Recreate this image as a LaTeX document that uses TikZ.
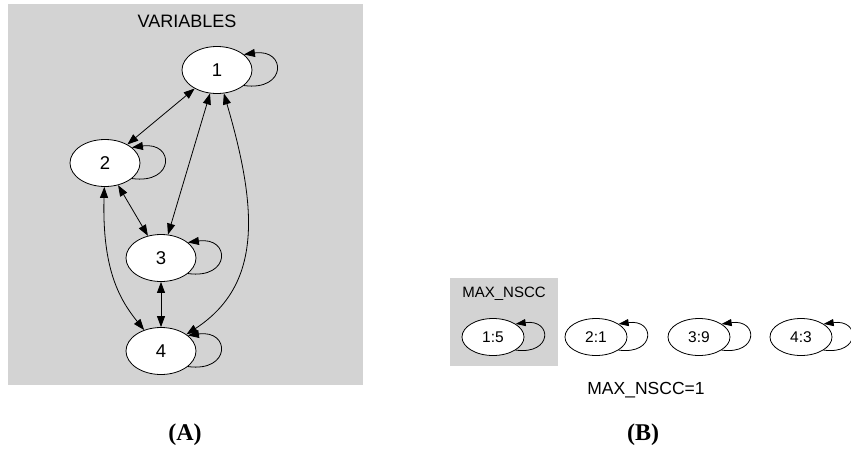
\documentclass[tikz,border=0pt]{standalone}
\usepackage{fontspec}
\setmainfont{Liberation Serif}
\setsansfont{Liberation Sans}
\usetikzlibrary{arrows.meta,shapes.geometric}
\definecolor{clustergray}{RGB}{211,211,211}
\tikzset{
  var/.style = {ellipse, draw, fill=white, line width=0.8pt, minimum width=70pt, minimum height=47pt, inner sep=0pt, font=\sffamily\fontsize{18.5}{18.5}\selectfont},
  scc/.style = {ellipse, draw, fill=white, line width=0.8pt, minimum width=62pt, minimum height=37pt, inner sep=0pt, font=\sffamily\fontsize{15.5}{15.5}\selectfont},
  arc/.style = {line width=0.8pt, -{Triangle[length=11pt,width=8pt]}},
  sarc/.style = {line width=0.8pt, -{Triangle[length=10pt,width=7pt]}},
  both/.style = {line width=0.8pt, {Triangle[length=11pt,width=8pt]}-{Triangle[length=11pt,width=8pt]}},
  caption/.style = {font=\bfseries\fontsize{24}{24}\selectfont}
}
\begin{document}
\begin{tikzpicture}[x=1pt, y=1pt]
\useasboundingbox (0,0) rectangle (851,-451);
\fill[clustergray] (8,-4) rectangle (363,-385);
\node[font=\sffamily\fontsize{18}{18}\selectfont] (vars) at (187,-21) {VARIABLES};
\node[var] (v1) at (217,-70) {1};
\node[var] (v2) at (105,-163) {2};
\node[var] (v3) at (161,-258) {3};
\node[var] (v4) at (161,-351) {4};
\foreach \v in {1,2,3,4}
  \draw[arc] (v\v.-30) .. controls +(43,-6) and +(43,6) .. (v\v.30);
\draw[both] (v1) -- (v2);
\draw[both] (v1) -- (v3);
\draw[both] (v2) -- (v3);
\draw[both] (v3) -- (v4);
\draw[both] (v1) .. controls (258,-210) and (262,-285) .. (v4);
\draw[both] (v2) .. controls (102,-270) and (120,-300) .. (v4);

\fill[clustergray] (450,-278) rectangle (558,-366);
\node[font=\sffamily\fontsize{15}{15}\selectfont] (nscc) at (504,-294) {MAX\_NSCC};
\foreach \n/\x/\lbl in {1/493/1:5, 2/596/2:1, 3/699/3:9, 4/801/4:3}
{
  \node[scc] (s\n) at (\x,-337) {\lbl};
  \draw[sarc] (s\n.-30) .. controls +(37,-5) and +(37,5) .. (s\n.30);
}
\node[font=\sffamily\fontsize{17.5}{17.5}\selectfont] (maxn) at (646,-390) {MAX\_NSCC=1};
\node[caption] (capA) at (185,-435) {(A)};
\node[caption] (capB) at (643,-435) {(B)};
\end{tikzpicture}
\end{document}
